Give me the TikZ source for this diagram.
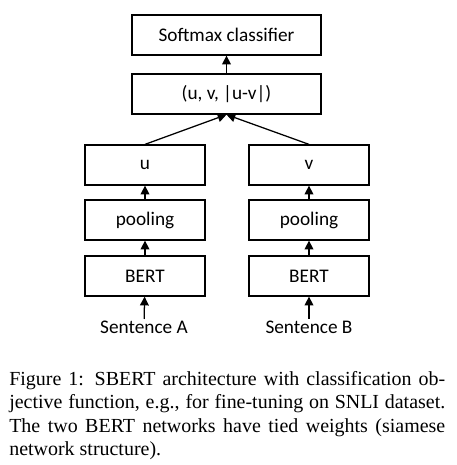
\documentclass[tikz,border=0pt]{standalone}
\usepackage{fontspec}
\setmainfont{Liberation Serif}
\newfontfamily\boxfont{Carlito}
\usetikzlibrary{arrows.meta}

\tikzset{
  block/.style = {draw, line width = 0.9pt, minimum width = 3cm, minimum height = 1cm,
    inner sep = 0pt, font = \boxfont\fontsize{13.7}{16}\selectfont},
  input/.style = {inner sep = 1pt, font = \boxfont\fontsize{13.7}{16}\selectfont},
  arr/.style = {-{Triangle[width = 0.22cm, length = 0.22cm]}, line width = 0.9pt}
}

\begin{document}
\begin{tikzpicture}
\useasboundingbox (0, 0) rectangle (11.425, 11.625);
\node (softmax) [block, minimum width = 4.725cm] at (5.6625, 10.75) {Softmax classifier};
\node (concat) [block, minimum width = 4.725cm] at (5.6625, 9.275) {(u, v, |u-v|)};
% left branch
\node (u) [block] at (3.625, 7.5) {u};
\node (poolA) [block] at (3.625, 6.125) {pooling};
\node (bertA) [block] at (3.625, 4.725) {BERT};
\node (sentA) [input] at (3.6, 3.45) {Sentence A};
% right branch
\node (v) [block] at (7.725, 7.5) {v};
\node (poolB) [block] at (7.725, 6.125) {pooling};
\node (bertB) [block] at (7.725, 4.725) {BERT};
\node (sentB) [input] at (7.725, 3.45) {Sentence B};
\draw [arr] (sentA) -- (bertA);
\draw [arr] (bertA) -- (poolA);
\draw [arr] (poolA) -- (u);
\draw [arr] (sentB) -- (bertB);
\draw [arr] (bertB) -- (poolB);
\draw [arr] (poolB) -- (v);
\draw [arr] (u.north) -- (concat.south);
\draw [arr] (v.north) -- (concat.south);
\draw [arr] (concat) -- (softmax);
\node (caption) [anchor = north west, text width = 10.9cm, align = justify, inner sep = 0pt,
  font = \fontsize{14.2}{16.7}\selectfont] at (0.225, 2.35)
  {Figure 1: SBERT architecture with classification objective function, e.g., for fine-tuning on SNLI dataset. The two BERT networks have tied weights (siamese network structure).};
\end{tikzpicture}
\end{document}
